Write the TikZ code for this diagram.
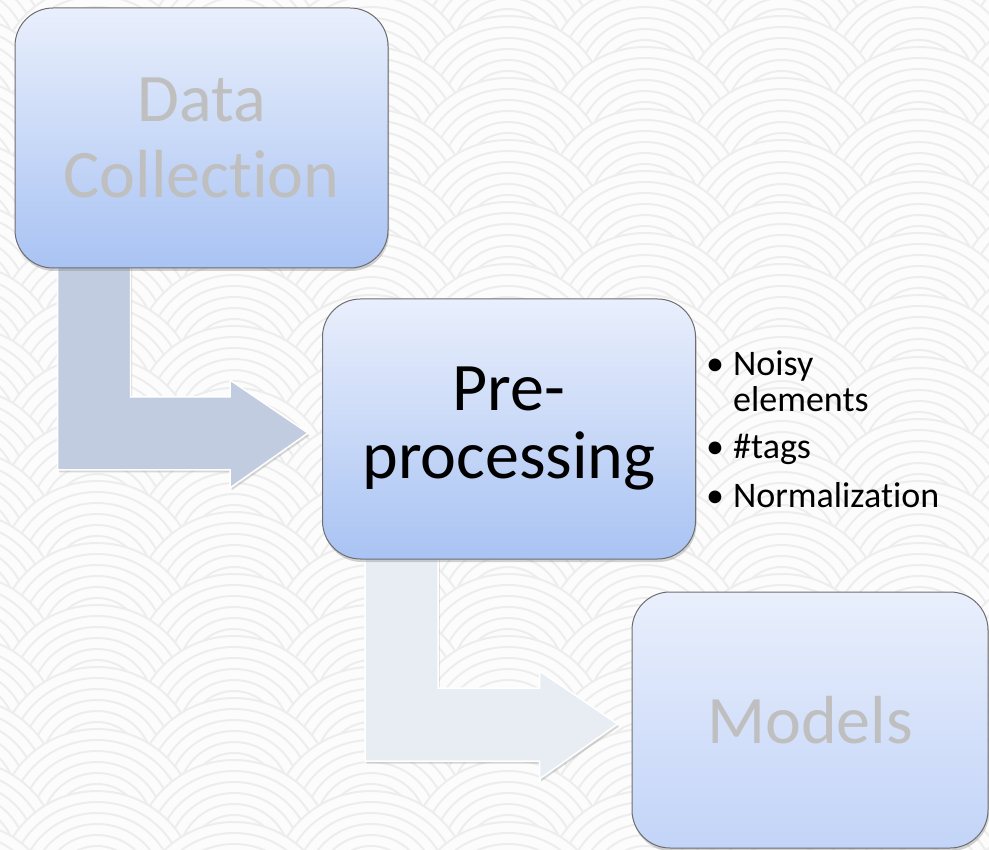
\documentclass[tikz,border=0pt]{standalone}
\usepackage{fontspec}
\setmainfont[Ligatures=NoCommon,RawFeature={-liga;-clig;-calt;-dlig}]{Carlito}
\usetikzlibrary{calc,shadows}
\pgfdeclarelayer{bg}
\pgfdeclarelayer{arr}
\pgfsetlayers{bg,arr,main}
\definecolor{boxtop}{HTML}{E9EFFC}
\definecolor{boxbot}{HTML}{A9C3F3}
\definecolor{boxbotlight}{HTML}{C2D4F8}
\definecolor{boxline}{HTML}{6E6E70}
\definecolor{graytext}{HTML}{BFBFBF}
\definecolor{arrowone}{HTML}{C1CCE1}
\definecolor{arrowtwo}{HTML}{E8ECF3}
\definecolor{bgwhite}{HTML}{FCFCFC}
\definecolor{waveline}{HTML}{EDEDED}
\tikzset{
  stage/.style={draw=boxline, line width=1pt, rounded corners=38pt,
    top color=boxtop, bottom color=boxbot,
    minimum width=373pt, minimum height=260pt, inner sep=0pt,
    align=center, font=\fontsize{68}{76}\selectfont,
    drop shadow={shadow xshift=1pt, shadow yshift=-3pt, opacity=0.35}},
  bentarrowstyle/.style={draw=white, line width=1.5pt,
    drop shadow={shadow xshift=1.5pt, shadow yshift=-2.5pt, opacity=0.3}},
  wave/.style={draw=waveline, line width=2pt}
}
\newcommand\bentarrow[3]{%
  \path[bentarrowstyle, fill=#3]
    let \p1=(#1.south west), \p2=(#2.west) in
    (\x1+43pt,\y1+6pt) -- (\x1+116pt,\y1+6pt) -- (\x1+116pt,\y2+32pt)
    -- (\x2-92pt,\y2+32pt) -- (\x2-92pt,\y2+49pt) -- (\x2-14pt,\y2-4pt)
    -- (\x2-92pt,\y2-59pt) -- (\x2-92pt,\y2-41pt) -- (\x1+43pt,\y2-41pt) -- cycle;}
\begin{document}
\begin{tikzpicture}[x=1pt,y=-1pt]
\useasboundingbox (0,0) rectangle (989,850);
% background seigaiha pattern
\begin{pgfonlayer}{bg}
  \fill[bgwhite] (0,0) rectangle (989,850);
  \begin{scope}
    \clip (0,0) rectangle (989,850);
    \foreach \m in {0,...,34}{
      \pgfmathtruncatemacro\st{mod(\m,2)}
      \pgfmathtruncatemacro\stb{\st+2}
      \foreach \k in {\st,\stb,...,9}{
        \fill[bgwhite] (\k*137-40,\m*31-70) circle[radius=100pt];
        \foreach \r in {100,89,...,23}
          \draw[wave] (\k*137-40,\m*31-70) circle[radius=\r pt];
      }
    }
  \end{scope}
\end{pgfonlayer}
% stages
\node[stage, text=graytext] (dc) at (201.5,138) {Data\\Collection};
\node[stage, text=black, font=\fontsize{68}{68}\selectfont] (pp) at (509,429) {Pre-\\processing};
\node[stage, text=graytext, minimum width=356pt, minimum height=256pt,
      bottom color=boxbotlight] (mo) at (810,720) {Models};
% bullet list
\node[anchor=base west, inner sep=0pt, font=\fontsize{36}{35}\selectfont] (bl) at (706,376)
  {\begin{tabular}[t]{@{}l@{}l@{}}
   \makebox[27pt][l]{•}&Noisy\\
   &elements\\[12pt]
   \makebox[27pt][l]{•}&\#tags\\[14pt]
   \makebox[27pt][l]{•}&Normalization
   \end{tabular}};
% bent arrows
\begin{pgfonlayer}{arr}
  \bentarrow{dc}{pp}{arrowone}
  \bentarrow{pp}{mo}{arrowtwo}
\end{pgfonlayer}
\end{tikzpicture}
\end{document}
